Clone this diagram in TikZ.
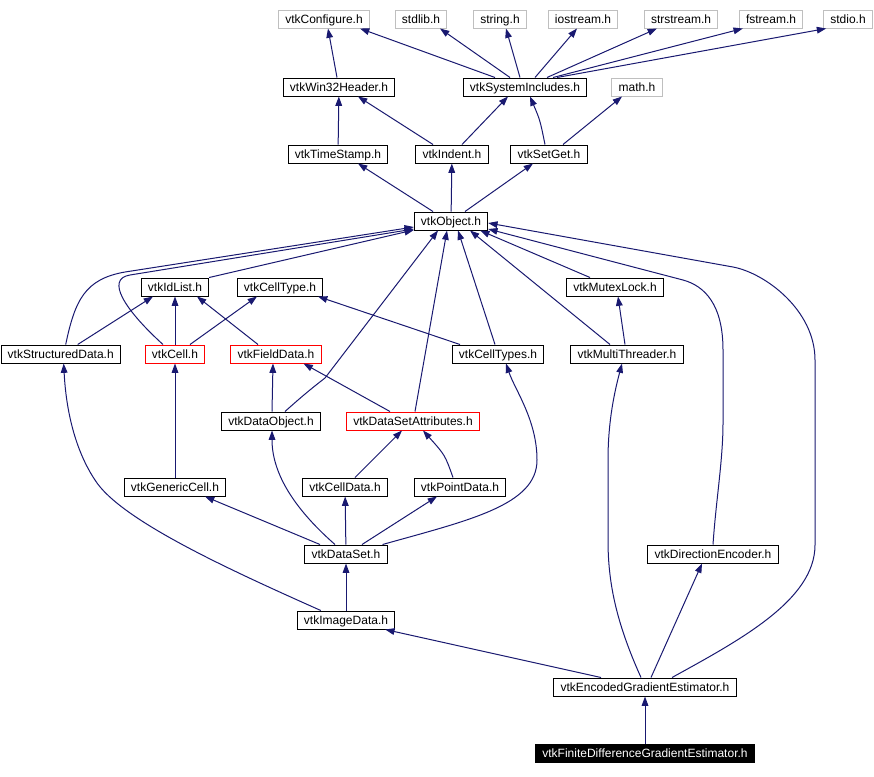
\documentclass[tikz,border=0pt]{standalone}
\usepackage{fontspec}
\setmainfont{Liberation Sans}
\usepackage{xcolor}
\usetikzlibrary{arrows.meta, calc}
\definecolor{edgeblue}{RGB}{25, 25, 112}
\definecolor{extgray}{RGB}{191, 191, 191}

\begin{document}
\begin{tikzpicture}[x=0.75pt, y=-0.75pt,
    hdr/.style={draw=black, line width=0.75pt, minimum height=13.5pt,
                inner xsep=5pt, inner ysep=0pt, text height=7pt, text depth=1pt,
                font=\fontsize{9}{10}\selectfont},
    ext/.style={hdr, draw=extgray},
    warn/.style={hdr, draw=red},
    cur/.style={hdr, fill=black, text=white},
    dep/.style={draw=edgeblue, line width=0.75pt, -{Triangle[length=7pt, width=5pt]}}
]
    \useasboundingbox (0,0) rectangle (874,776);

    \node[ext] (cfg) at (324,19) {vtkConfigure.h};
    \node[ext] (stdlibh) at (421,19) {stdlib.h};
    \node[ext] (stringh) at (500,19) {string.h};
    \node[ext] (iostreamh) at (583,19) {iostream.h};
    \node[ext] (strstreamh) at (681,19) {strstream.h};
    \node[ext] (fstreamh) at (771,19) {fstream.h};
    \node[ext] (stdioh) at (848,19) {stdio.h};

    \node[hdr] (win32) at (339,87) {vtkWin32Header.h};
    \node[hdr] (sysinc) at (525,87) {vtkSystemIncludes.h};
    \node[ext] (mathh) at (637,87) {math.h};

    \node[hdr] (tstamp) at (338,154) {vtkTimeStamp.h};
    \node[hdr] (indent) at (452,154) {vtkIndent.h};
    \node[hdr] (setget) at (549,154) {vtkSetGet.h};

    \node[hdr] (object) at (451,221) {vtkObject.h};

    \node[hdr] (idlist) at (175,287) {vtkIdList.h};
    \node[hdr] (celltype) at (280,287) {vtkCellType.h};
    \node[hdr] (mutex) at (615,287) {vtkMutexLock.h};

    \node[hdr, anchor=west] (structd) at (0.5,354) {vtkStructuredData.h};
    \node[warn] (cell) at (175,354) {vtkCell.h};
    \node[warn] (fielddata) at (276,354) {vtkFieldData.h};
    \node[hdr] (celltypes) at (498,354) {vtkCellTypes.h};
    \node[hdr] (multi) at (627,354) {vtkMultiThreader.h};

    \node[hdr] (dataobj) at (271,421) {vtkDataObject.h};
    \node[warn] (dsattr) at (413,421) {vtkDataSetAttributes.h};

    \node[hdr] (generic) at (175,487) {vtkGenericCell.h};
    \node[hdr] (celldata) at (345,487) {vtkCellData.h};
    \node[hdr] (pointdata) at (460,487) {vtkPointData.h};

    \node[hdr] (dataset) at (346,554) {vtkDataSet.h};
    \node[hdr] (direnc) at (713,554) {vtkDirectionEncoder.h};

    \node[hdr] (imagedata) at (346,620) {vtkImageData.h};

    \node[hdr] (encoded) at (645,687) {vtkEncodedGradientEstimator.h};

    \node[cur] (finite) at (645,753) {vtkFiniteDifferenceGradientEstimator.h};

    \draw[dep] ($(win32.north)+(-2,0)$) -- ($(cfg.south)+(4,0)$);
    \draw[dep] ($(sysinc.north)+(-30,0)$) -- ($(cfg.south)+(36,0)$);
    \draw[dep] ($(sysinc.north)+(-15,0)$) -- ($(stdlibh.south)+(19,0)$);
    \draw[dep] ($(sysinc.north)+(-5,0)$) -- ($(stringh.south)+(6,0)$);
    \draw[dep] ($(sysinc.north)+(10,0)$) -- ($(iostreamh.south)+(-6,0)$);
    \draw[dep] ($(sysinc.north)+(22,0)$) -- ($(strstreamh.south)+(-24,0)$);
    \draw[dep] ($(sysinc.north)+(28,0)$) -- ($(fstreamh.south west)+(4,0)$);
    \draw[dep] ($(sysinc.north)+(32,0)$) -- ($(stdioh.south west)+(3,0)$);

    \draw[dep] (tstamp) -- (win32);
    \draw[dep] ($(indent.north)+(-19,0)$) -- ($(win32.south)+(19,0)$);
    \draw[dep] ($(indent.north)+(10,0)$) -- ($(sysinc.south)+(-17,0)$);
    \draw[dep] ($(setget.north)+(-4,0)$) .. controls (540,120) .. ($(sysinc.south)+(5,0)$);
    \draw[dep] ($(setget.north)+(14,0)$) -- ($(mathh.south)+(-15,0)$);

    \draw[dep] ($(object.north)+(-18,0)$) -- ($(tstamp.south)+(20,0)$);
    \draw[dep] (object) -- (indent);
    \draw[dep] ($(object.north)+(14,0)$) -- ($(setget.south)+(-16,0)$);

    \draw[dep] (idlist.north east) -- ($(object.west)+(0,9)$);
    \draw[dep] ($(structd.north)+(5,0)$) .. controls (75,300) and (85,279) .. (125,272)
        -- ($(object.west)+(0,6)$);
    \draw[dep] ($(cell.north)+(-12,0)$) .. controls (125,310) and (105,279) .. (130,275)
        -- ($(object.west)+(0,8)$);
    \draw[dep] ($(structd.north)+(17,0)$) -- ($(idlist.south)+(-22,0)$);
    \draw[dep] (cell) -- (idlist);
    \draw[dep] ($(cell.north)+(15,0)$) -- ($(celltype.south)+(-23,0)$);
    \draw[dep] ($(fielddata.north)+(-18,0)$) -- ($(idlist.south)+(22,0)$);
    \draw[dep] ($(celltypes.north)+(-38,0)$) -- ($(celltype.south)+(38,0)$);
    \draw[dep] ($(celltypes.north)+(-3,0)$) -- ($(object.south)+(7,0)$);
    \draw[dep] ($(mutex.north)+(-25,0)$) -- ($(object.south east)+(-8,0)$);
    \draw[dep] ($(multi.north)+(-17,0)$) -- ($(object.south)+(19,0)$);
    \draw[dep] ($(multi.north)+(-2,0)$) -- ($(mutex.south)+(3,0)$);

    \draw[dep] ($(dataobj.north)+(14,0)$) .. controls (300,398) and (312,388) .. (325,378)
        -- ($(object.south)+(-13,0)$);
    \draw[dep] ($(dataobj.north)+(1,0)$) -- ($(fielddata.south)+(-3,0)$);
    \draw[dep] ($(dsattr.north)+(2,0)$) -- ($(object.south)+(-4,0)$);
    \draw[dep] ($(dsattr.north)+(-23,0)$) -- ($(fielddata.south east)+(-18,0)$);

    \draw[dep] (generic) -- (cell);
    \draw[dep] ($(celldata.north)+(10,0)$) -- ($(dsattr.south)+(-11,0)$);
    \draw[dep] ($(pointdata.north)+(-7,0)$) .. controls (445,455) .. ($(dsattr.south)+(10,0)$);

    \draw[dep] ($(dataset.north)+(-11,0)$) .. controls (290,505) and (272,470) .. ($(dataobj.south)+(1,0)$);
    \draw[dep] ($(dataset.north)+(-26,0)$) -- ($(generic.south)+(30,0)$);
    \draw[dep] (dataset) -- (celldata);
    \draw[dep] ($(dataset.north)+(16,0)$) -- ($(pointdata.south)+(-23,0)$);
    \draw[dep] ($(dataset.north east)+(-5,0)$) .. controls (470,520) and (537,505) .. (537,460)
        .. controls (537,420) and (515,390) .. ($(celltypes.south)+(8,0)$);

    \draw[dep] (direnc.north) .. controls (716,500) and (723,460) .. (723,423) -- (723,350)
        .. controls (723,305) and (705,286) .. (683,280) -- ($(object.east)+(0,8)$);

    \draw[dep] (imagedata) -- (dataset);
    \draw[dep] ($(imagedata.north west)+(24,0)$) .. controls (230,570) and (120,520) .. (95,480)
        .. controls (75,450) and (66,410) .. ($(structd.south)+(3,0)$);

    \draw[dep] ($(encoded.north)+(-44,0)$) -- ($(imagedata.south east)+(-10,0)$);
    \draw[dep] ($(encoded.north)+(-4,0)$) .. controls (615,620) and (608,580) .. (608,540)
        -- (608,460) .. controls (608,420) and (615,390) .. ($(multi.south)+(-5,0)$);
    \draw[dep] ($(encoded.north)+(6,0)$) -- ($(direnc.south)+(-11,0)$);
    \draw[dep] ($(encoded.north)+(27,0)$) .. controls (740,640) and (815,600) .. (815,545)
        -- (815,360) .. controls (815,310) and (765,273) .. (733,267) -- ($(object.east)+(0,2)$);

    \draw[dep] (finite) -- (encoded);
\end{tikzpicture}
\end{document}
